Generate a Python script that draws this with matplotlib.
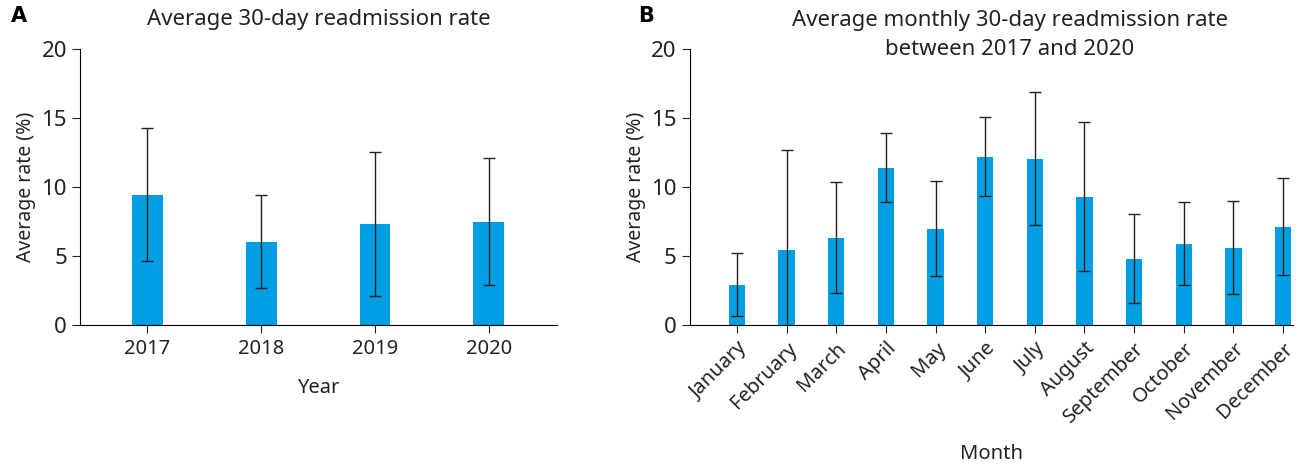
import numpy as np
import matplotlib
matplotlib.use('Agg')
from matplotlib import pyplot as plt

plt.rcParams['font.family'] = ['Noto Sans', 'DejaVu Sans']

# panel A data
years = ['2017', '2018', '2019', '2020']
year_rate = [9.45, 6.05, 7.3, 7.5]
year_err = [4.8, 3.35, 5.2, 4.6]

# panel B data
months = ['January', 'February', 'March', 'April', 'May', 'June', 'July',
          'August', 'September', 'October', 'November', 'December']
month_rate = [2.96, 5.48, 6.35, 11.4, 7.0, 12.2, 12.05, 9.3, 4.83, 5.91, 5.63, 7.14]
month_err = [2.3, 7.2, 4.0, 2.5, 3.4, 2.85, 4.78, 5.4, 3.2, 3.0, 3.35, 3.5]

blue = '#009FE3'
txt = '#222222'
fs = 14

fig = plt.figure(figsize=(13.14, 4.67), dpi=100)

def style(ax):
    for s in ['top', 'right']:
        ax.spines[s].set_visible(False)
    ax.spines['left'].set_bounds(0, 20)
    ax.set_ylim(0, 20)
    ax.set_yticks([0, 5, 10, 15, 20])
    ax.tick_params(direction='out', length=6, colors=txt)
    ax.tick_params(axis='x', labelsize=14.5)
    ax.tick_params(axis='y', labelsize=16)
    ax.set_ylabel('Average rate (%)', fontsize=fs, color=txt)

#---A
ax1 = fig.add_axes([0.061, 0.303, 0.363, 0.593])
x = np.arange(len(years))
ax1.bar(x, year_rate, width=0.27, color=blue, zorder=2)
ax1.errorbar(x, year_rate, yerr=year_err, fmt='none', ecolor=txt,
             elinewidth=1, capsize=4, capthick=1, zorder=3, clip_on=False)
ax1.set_xticks(x)
ax1.set_xticklabels(years)
ax1.set_xlim(-0.59, 3.6)
style(ax1)
ax1.set_xlabel('Year', fontsize=fs + 0.5, color=txt, labelpad=14)
ax1.set_title('Average 30-day readmission rate', fontsize=16, color=txt, pad=17)
fig.text(0.008, 0.952, 'A', fontsize=15, fontweight='bold', family='DejaVu Sans')

#---B
ax2 = fig.add_axes([0.525, 0.303, 0.459, 0.593])
x = np.arange(len(months))
ax2.bar(x, month_rate, width=0.33, color=blue, zorder=2)
ax2.errorbar(x, month_rate, yerr=month_err, fmt='none', ecolor=txt,
             elinewidth=1, capsize=4, capthick=1, zorder=3)
ax2.set_xticks(x)
ax2.set_xticklabels(months, rotation=45, ha='right', rotation_mode='anchor')
ax2.set_xlim(-0.95, 11.2)
style(ax2)
ax2.set_xlabel('Month', fontsize=fs + 0.5, color=txt, labelpad=12)
fig.text(0.7685, 0.925, 'Average monthly 30-day readmission rate\nbetween 2017 and 2020',
         fontsize=16, color=txt, ha='center', va='center', linespacing=1.5)
fig.text(0.486, 0.952, 'B', fontsize=15, fontweight='bold', family='DejaVu Sans')

fig.savefig('out.png', dpi=100)
